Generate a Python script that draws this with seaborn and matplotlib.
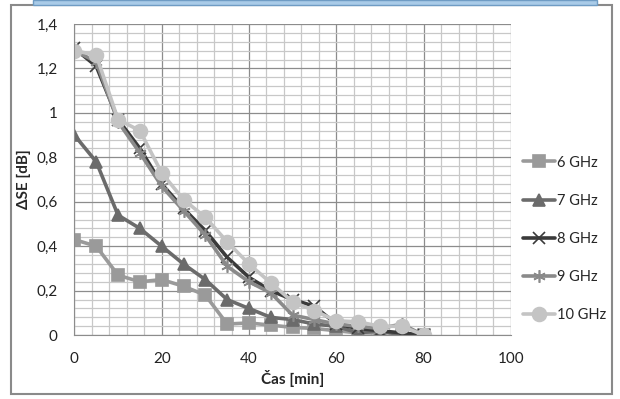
import numpy as np
import pandas as pd
import matplotlib
matplotlib.use("Agg")
import matplotlib.pyplot as plt
from matplotlib.patches import Rectangle
from matplotlib.ticker import MultipleLocator, FuncFormatter
import seaborn as sns

# time axis [min]
cas = [0, 5, 10, 15, 20, 25, 30, 35, 40, 45, 50, 55, 60, 65, 70, 75, 80]

# delta SE [dB] per frequency
se_6 = [0.43, 0.40, 0.27, 0.24, 0.25, 0.22, 0.18, 0.05, 0.055, 0.045, 0.035, 0.03, 0.02, 0.01, 0.01, 0.01, 0.0]
se_7 = [0.90, 0.78, 0.54, 0.48, 0.40, 0.32, 0.25, 0.16, 0.12, 0.08, 0.07, 0.05, 0.04, 0.01, 0.02, 0.0, 0.0]
se_8 = [1.29, 1.21, 0.97, 0.84, 0.68, 0.57, 0.47, 0.35, 0.26, 0.20, 0.16, 0.13, 0.05, 0.03, 0.02, 0.01, 0.0]
se_9 = [1.28, 1.23, 0.96, 0.82, 0.67, 0.56, 0.45, 0.31, 0.24, 0.19, 0.09, 0.07, 0.05, 0.04, 0.03, 0.05, 0.0]
se_10 = [1.28, 1.26, 0.97, 0.92, 0.73, 0.61, 0.53, 0.42, 0.32, 0.235, 0.15, 0.11, 0.065, 0.06, 0.04, 0.04, 0.0]

labels = ["6 GHz", "7 GHz", "8 GHz", "9 GHz", "10 GHz"]
series = [se_6, se_7, se_8, se_9, se_10]

colors = ["#9a9a9a", "#6b6b6b", "#3a3a3a", "#8a8a8a", "#c4c4c4"]
markers = ["s", "^", "x", (6, 2, 0), "o"]
msizes = [9, 9, 8, 9, 10]

sns.set_style("white")
plt.rcParams["font.family"] = ["Lato", "DejaVu Sans"]

fig = plt.figure(figsize=(6.2, 3.99), dpi=100)
ax = fig.add_axes([0.120, 0.160, 0.704, 0.780])

for lab, s, c, m, ms in zip(labels, series, colors, markers, msizes):
    df = pd.DataFrame({"cas": cas, "se": s})
    sns.lineplot(data=df, x="cas", y="se", color=c, marker=m, markersize=ms,
                 markeredgecolor=c, markeredgewidth=1.2, linewidth=2.6, label=lab, ax=ax)

ax.set_xlim(0, 100)
ax.set_ylim(0, 1.4)
ax.xaxis.set_major_locator(MultipleLocator(20))
ax.xaxis.set_minor_locator(MultipleLocator(4))
ax.yaxis.set_major_locator(MultipleLocator(0.2))
ax.yaxis.set_minor_locator(MultipleLocator(0.04))
ax.yaxis.set_major_formatter(FuncFormatter(lambda v, p: f"{v:.1f}".rstrip("0").rstrip(".").replace(".", ",")))
ax.grid(which="major", color="#8c8c8c", linewidth=0.9)
ax.grid(which="minor", color="#c8c8c8", linewidth=0.9)
ax.set_axisbelow(True)
for side in ["top", "right"]:
    ax.spines[side].set_visible(False)
for side in ["left", "bottom"]:
    ax.spines[side].set_color("#8c8c8c")
ax.tick_params(axis="both", labelsize=11, colors="#222222", length=4, direction="out", pad=8)
ax.tick_params(which="minor", length=0)

ax.set_xlabel("Čas [min]", fontsize=11, fontweight="bold", labelpad=3)
ax.set_ylabel("ΔSE [dB]", fontsize=11, fontweight="bold", labelpad=4)

ax.legend(loc="center left", bbox_to_anchor=(1.012, 0.31), frameon=False, fontsize=10.5,
          labelspacing=1.65, handlelength=2.2, handletextpad=0.1, borderpad=0)

# outer chart frame and top highlight strip from the page
fig.patches.append(Rectangle((11 / 620, 1 - 394 / 399), 601 / 620, 389 / 399,
                             transform=fig.transFigure, fill=False, edgecolor="#8a8a8a", linewidth=1.5))
fig.patches.append(Rectangle((33 / 620, 1 - 5 / 399), 564 / 620, 5 / 399,
                             transform=fig.transFigure, facecolor="#a9cbe8", edgecolor="#6f9cc4", linewidth=1))

fig.savefig("out.png", dpi=100)
